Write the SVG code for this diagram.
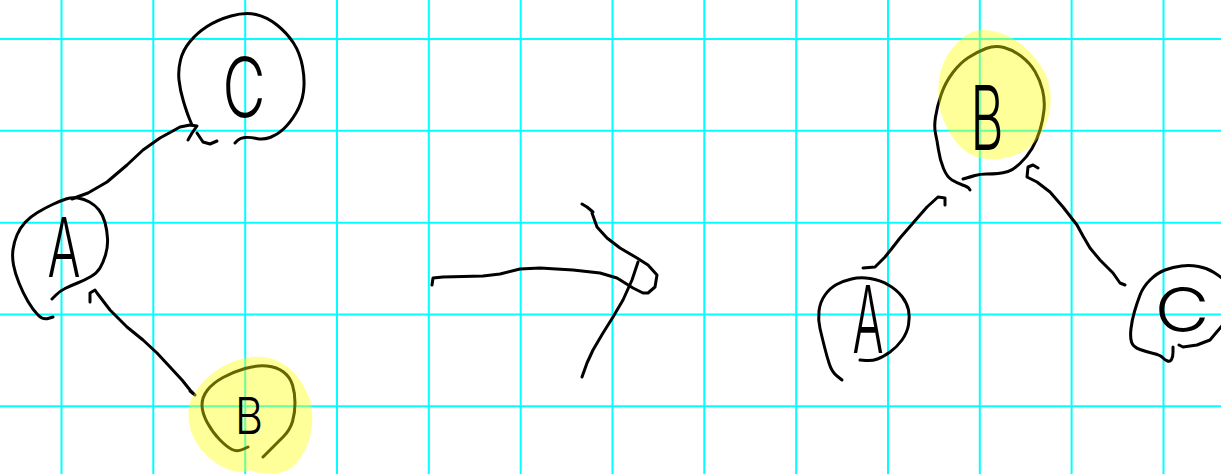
<svg xmlns="http://www.w3.org/2000/svg" width="1221" height="474" viewBox="0 0 1221 474">
<style>
.grid line{stroke:#00ffff;stroke-width:2}
.ink{fill:none;stroke:#000;stroke-width:3;stroke-linecap:round;stroke-linejoin:round}
.hl{fill:#ffff00;fill-opacity:0.4;stroke:none}
.lbl{font-family:Inter,Lato,Roboto,"DejaVu Sans",sans-serif;font-weight:300;fill:#000;text-anchor:middle}
</style>
<rect width="1221" height="474" fill="#fff"/>
<g class="grid">
<line x1="61.5" y1="0" x2="61.5" y2="474"/><line x1="153.3" y1="0" x2="153.3" y2="474"/><line x1="245.2" y1="0" x2="245.2" y2="474"/><line x1="337" y1="0" x2="337" y2="474"/><line x1="428.8" y1="0" x2="428.8" y2="474"/><line x1="520.7" y1="0" x2="520.7" y2="474"/><line x1="612.5" y1="0" x2="612.5" y2="474"/><line x1="704.3" y1="0" x2="704.3" y2="474"/><line x1="796.2" y1="0" x2="796.2" y2="474"/><line x1="888" y1="0" x2="888" y2="474"/><line x1="979.8" y1="0" x2="979.8" y2="474"/><line x1="1071.6" y1="0" x2="1071.6" y2="474"/><line x1="1163.5" y1="0" x2="1163.5" y2="474"/>
<line x1="0" y1="39" x2="1221" y2="39"/><line x1="0" y1="130.8" x2="1221" y2="130.8"/><line x1="0" y1="222.7" x2="1221" y2="222.7"/><line x1="0" y1="314.5" x2="1221" y2="314.5"/><line x1="0" y1="406.3" x2="1221" y2="406.3"/>
</g>
<g id="connectors">
<polyline class="ink" points="72,199 77,197 88,193 107,182 127,165 143,150 160,138 180,127 190,125 197,126 192,133 188,140"/>
<polyline class="ink" points="90,302 90,293 95,290 97,293 110,310 127,327 143,340 157,353 170,367 182,380 190,390 195,395 190,391"/>
<polyline class="ink" points="945,205 945,198 938,197 927,207 913,223 900,238 893,247 885,257 875,267 863,268"/>
<polyline class="ink" points="1038,168 1033,165 1028,167 1027,177 1037,182 1050,192 1063,207 1077,225 1083,236 1090,248 1100,260 1113,273 1120,283 1125,285"/>
</g>
<g id="transform-arrow">
<polyline class="ink" points="432,285 433,278 443,277 483,276 500,274 520,269 540,268 573,270 600,273 617,278 633,288 643,293 648,293 655,287 657,275 648,265 637,258 620,248 607,238 597,227 592,213 593,212 587,207 582,204"/>
<polyline class="ink" points="638,262 632,280 623,300 613,317 603,333 593,350 587,363 582,377"/>
</g>
<g id="left-A">
<path class="ink" d="M52,299 L56,295 Q60,291 65,288.5 Q70,286 77.5,283 Q85,280 91,276.5 Q97,273 100,268 Q103,263 105.5,255 Q108,247 107.5,238.5 Q107,230 105,222.5 Q103,215 99,210 Q95,205 89.5,202 Q84,199 78,198 Q72,197 66,199 Q60,201 52.5,204.5 Q45,208 37.5,212.5 Q30,217 25,222.5 Q20,228 17,235 Q14,242 13,249.5 Q12,257 13.5,265 Q15,273 19,283 Q23,293 28,301.5 Q33,310 38,315 Q43,320 48,318.5 L53,317"/>
<text class="lbl" x="64" y="277" font-size="83" textLength="33" lengthAdjust="spacingAndGlyphs">A</text>
</g>
<g id="left-C">
<path class="ink" d="M192,125 L189.5,119 Q187,113 183.5,101.5 Q180,90 179,80 Q178,70 180.5,60 Q183,50 190,41.5 Q197,33 207,26.5 Q217,20 231,16 Q245,12 256,14.5 Q267,17 277,25 Q287,33 293.5,43 Q300,53 302.5,66.5 Q305,80 303.5,91.5 Q302,103 296,113 Q290,123 283.5,129 Q277,135 270,137.5 Q263,140 256.5,138.5 Q250,137 245,137.5 Q240,138 237.5,140.5 L235,143"/>
<polyline class="ink" points="197,133 203,142 210,144 217,141"/>
<text class="lbl" x="244" y="117" font-size="82" textLength="43" lengthAdjust="spacingAndGlyphs">C</text>
</g>
<g id="left-B">
<path class="ink" d="M248,447 L242.5,449.5 Q237,452 232,449.5 Q227,447 220,440 Q213,433 207.5,423 Q202,413 202,405 Q202,397 207.5,390 Q213,383 223,377.5 Q233,372 245,368.5 Q257,365 267,366 Q277,367 283.5,372 Q290,377 292.5,385 Q295,393 295,403 Q295,413 292.5,421.5 Q290,430 283.5,436.5 Q277,443 270,450 L263,457"/>
<path class="hl" d="M253,357 C280,355 300,372 310,400 C316,425 310,450 293,467 C280,476 262,475 250,470 C238,476 222,468 212,460 C195,447 186,427 189,407 C194,385 220,360 253,357 Z"/>
<text class="lbl" x="249" y="434" font-size="51" textLength="28" lengthAdjust="spacingAndGlyphs">B</text>
</g>
<g id="right-B">
<path class="ink" d="M970,190 L969,188.5 Q968,187 962.5,185 Q957,183 952,180 Q947,177 943.5,168.5 Q940,160 938.5,150 Q937,140 935.5,133.5 Q934,127 935.5,117 Q937,107 941,95 Q945,83 952.5,73 Q960,63 968.5,57.5 Q977,52 986,48.5 Q995,45 1004,47.5 Q1013,50 1021.5,56.5 Q1030,63 1035,71.5 Q1040,80 1042.5,90 Q1045,100 1044,110 Q1043,120 1040,130 Q1037,140 1032,148.5 Q1027,157 1020,163.5 Q1013,170 1008,171.5 Q1003,173 998,173.5 Q993,174 986.5,174 Q980,174 975,175.5 Q970,177 966.5,178 L963,179"/>
<path class="hl" d="M982,30 C1010,30 1033,50 1046,75 C1056,100 1050,130 1030,147 C1015,158 997,161 980,158 C962,154 948,135 941,113 C935,88 938,62 957,43 C965,35 973,30 982,30 Z"/>
<text class="lbl" x="987" y="150" font-size="89" textLength="33" lengthAdjust="spacingAndGlyphs">B</text>
</g>
<g id="right-A">
<path class="ink" d="M842,380 L837,376 Q832,372 829.5,364.5 Q827,357 824.5,347 Q822,337 820,328.5 Q818,320 819,311 Q820,302 825,295 Q830,288 836.5,284.5 Q843,281 851.5,279 Q860,277 870,278.5 Q880,280 888.5,285 Q897,290 902,296.5 Q907,303 908.5,310 Q910,317 908.5,325 Q907,333 902,340 Q897,347 890,352 Q883,357 877.5,359 Q872,361 866,360.5 L860,360"/>
<text class="lbl" x="868" y="353" font-size="94" textLength="31" lengthAdjust="spacingAndGlyphs">A</text>
</g>
<g id="right-C">
<path class="ink" d="M1173,347 L1173,352 Q1173,357 1171.5,359.5 Q1170,362 1167.5,361 Q1165,360 1162.5,357.5 Q1160,355 1153.5,353.5 Q1147,352 1140,349.5 Q1133,347 1131.5,342 Q1130,337 1131,328.5 Q1132,320 1134.5,311.5 Q1137,303 1140,295 Q1143,287 1150,280 Q1157,273 1165,270 Q1173,267 1181.5,266 Q1190,265 1198.5,266.5 Q1207,268 1214,272.5 Q1221,277 1225.5,281 L1230,285"/>
<polyline class="ink" points="1226,320 1221,327 1210,340 1197,345 1183,347 1179,345"/>
<text class="lbl" x="1182" y="332" font-size="62" textLength="55" lengthAdjust="spacingAndGlyphs">C</text>
</g>
</svg>
